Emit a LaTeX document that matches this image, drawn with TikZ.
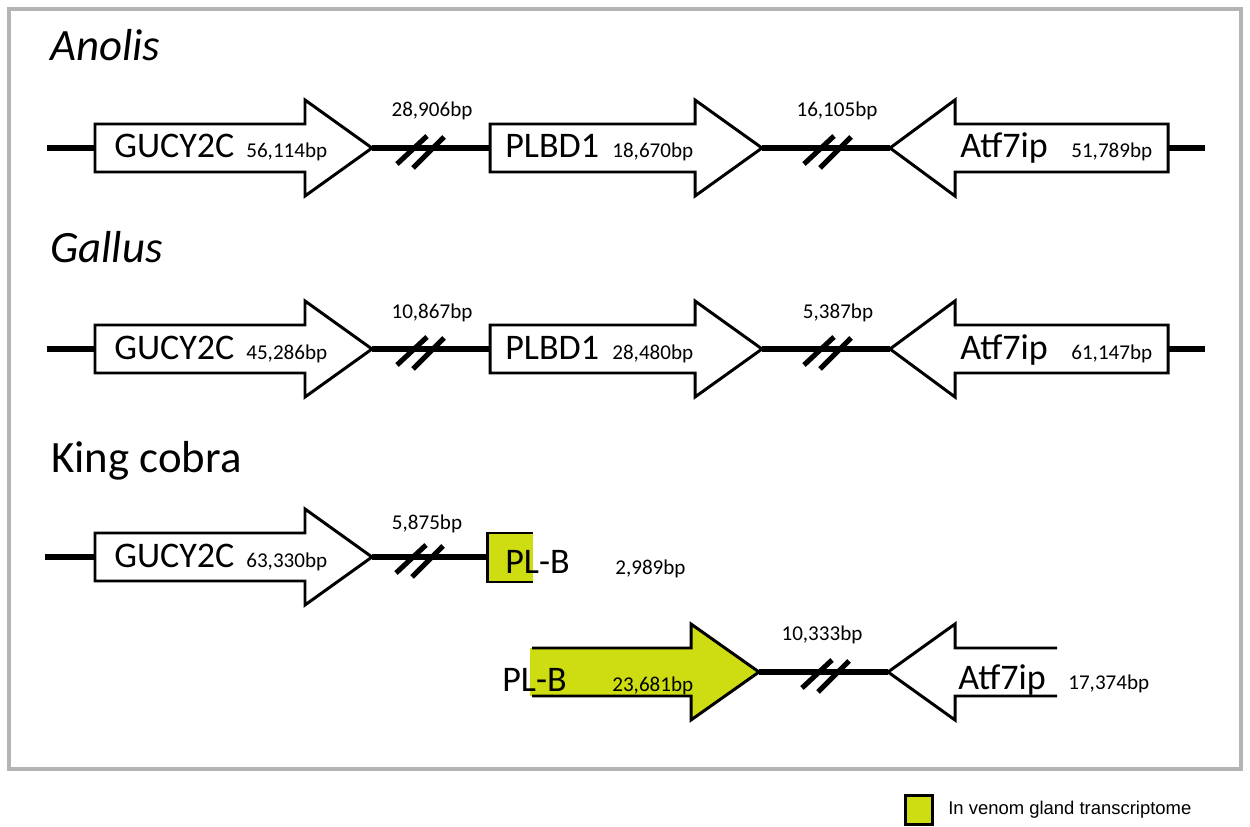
\documentclass[tikz,border=0pt]{standalone}
\usepackage{fontspec}
\setmainfont{Carlito}
\newfontfamily\legendfont{Liberation Sans}
\definecolor{venom}{RGB}{206,221,18}
\definecolor{framegray}{RGB}{180,180,180}
\tikzset{
  chrom/.style={line width=3pt, line cap=butt},
  gene/.style={draw=black, line width=1.7pt, line join=miter},
  brkline/.style={line width=2.9pt, line cap=butt},
  genelbl/.style={anchor=base west, inner sep=0pt, font=\fontsize{20.5}{24}\selectfont},
  bplbl/.style={anchor=base west, inner sep=0pt, font=\fontsize{12}{14}\selectfont},
  gaplbl/.style={anchor=base, inner sep=0pt, font=\fontsize{12}{14}\selectfont},
  species/.style={anchor=base west, inner sep=0pt, font=\fontsize{25.5}{30}\selectfont},
  brk/.pic={
    \draw[brkline] (-24,16) -- (6,-12);
    \draw[brkline] (-8,20) -- (23,-11);
  }
}
% right-pointing gene arrow: name, tail x, tip x, y
\newcommand{\GeneRight}[4]{%
  \draw[gene, fill=white] (#2,#4-24) -- (#3-67,#4-24) -- (#3-67,#4-48) -- (#3,#4)
    -- (#3-67,#4+48) -- (#3-67,#4+24) -- (#2,#4+24) -- cycle;
  \coordinate (#1-tail) at (#2,#4);
  \coordinate (#1-tip) at (#3,#4);
}
% left-pointing gene arrow: name, tip x, tail x, y
\newcommand{\GeneLeft}[4]{%
  \draw[gene, fill=white] (#3,#4-24) -- (#2+65,#4-24) -- (#2+65,#4-48) -- (#2,#4)
    -- (#2+65,#4+48) -- (#2+65,#4+24) -- (#3,#4+24) -- cycle;
  \coordinate (#1-tip) at (#2,#4);
  \coordinate (#1-tail) at (#3,#4);
}
\begin{document}
\begin{tikzpicture}[x=0.02cm, y=-0.02cm]
\useasboundingbox (0,0) rectangle (1250,827);
\fill[white] (0,0) rectangle (1250,827);
\draw[framegray, line width=2.2pt] (9,9) rectangle (1241,769);

% ---------------- Anolis ----------------
\node[species] (sp1) at (50,61) {\itshape Anolis};
\coordinate (r1s) at (47,148);
\coordinate (r1e) at (1205,148);
\GeneRight{a1}{95}{372}{148}
\GeneRight{a2}{490}{762}{148}
\GeneLeft{a3}{890}{1168}{148}
\draw[chrom] (r1s) -- (a1-tail);
\draw[chrom] (a1-tip) -- (a2-tail);
\draw[chrom] (a2-tip) -- (a3-tip);
\draw[chrom] (a3-tail) -- (r1e);
\pic at (421,148) {brk};
\pic at (828,148) {brk};
\node[gaplbl] (g11) at (432,117) {28,906bp};
\node[gaplbl] (g12) at (837,117) {16,105bp};
\node[genelbl] (n11) at (114,158) {GUCY2C};
\node[bplbl] (b11) at (246,158) {56,114bp};
\node[genelbl] (n12) at (505,158) {PLBD1};
\node[bplbl] (b12) at (612,158) {18,670bp};
\node[genelbl] (n13) at (960,158) {Atf7ip};
\node[bplbl] (b13) at (1071,158) {51,789bp};

% ---------------- Gallus ----------------
\node[species] (sp2) at (50,263) {\itshape Gallus};
\coordinate (r2s) at (47,349);
\coordinate (r2e) at (1205,349);
\GeneRight{c1}{95}{372}{349}
\GeneRight{c2}{490}{762}{349}
\GeneLeft{c3}{890}{1168}{349}
\draw[chrom] (r2s) -- (c1-tail);
\draw[chrom] (c1-tip) -- (c2-tail);
\draw[chrom] (c2-tip) -- (c3-tip);
\draw[chrom] (c3-tail) -- (r2e);
\pic at (421,349) {brk};
\pic at (828,349) {brk};
\node[gaplbl] (g21) at (432,318) {10,867bp};
\node[gaplbl] (g22) at (838,318) {5,387bp};
\node[genelbl] (n21) at (114,359) {GUCY2C};
\node[bplbl] (b21) at (246,359) {45,286bp};
\node[genelbl] (n22) at (505,359) {PLBD1};
\node[bplbl] (b22) at (612,359) {28,480bp};
\node[genelbl] (n23) at (960,359) {Atf7ip};
\node[bplbl] (b23) at (1071,359) {61,147bp};

% ---------------- King cobra ----------------
\node[species] (sp3) at (51,472) {King cobra};
\coordinate (r3s) at (45,557);
\GeneRight{k1}{95}{372}{557}
\coordinate (box-l) at (487,557);
\fill[venom] (487,533) rectangle (533,582);
\draw[gene] (533,533) -- (487,533) -- (487,582) -- (533,582);
\draw[chrom] (r3s) -- (k1-tail);
\draw[chrom] (k1-tip) -- (box-l);
\pic at (420,557) {brk};
\node[gaplbl] (g31) at (427,529) {5,875bp};
\node[genelbl] (n31) at (114,567) {GUCY2C};
\node[bplbl] (b31) at (246,567) {63,330bp};
\node[genelbl] (n32) at (505,573) {PL-B};
\node[bplbl] (b32) at (615,574) {2,989bp};

% second King cobra row
\fill[venom] (530,648) -- (691,648) -- (691,624) -- (759,672) -- (691,720) -- (691,696) -- (530,696) -- cycle;
\draw[gene] (532,648) -- (691,648) -- (691,624) -- (759,672) -- (691,720) -- (691,696) -- (532,696);
\coordinate (y2-tip) at (759,672);
\fill[white] (1057,648) -- (955,648) -- (955,624) -- (888,672) -- (955,720) -- (955,696) -- (1057,696) -- cycle;
\draw[gene] (1057,648) -- (955,648) -- (955,624) -- (888,672) -- (955,720) -- (955,696) -- (1057,696);
\coordinate (at2-tip) at (888,672);
\draw[chrom] (y2-tip) -- (at2-tip);
\pic at (826,672) {brk};
\node[gaplbl] (g41) at (822,640) {10,333bp};
\node[genelbl] (n41) at (502,691) {PL-B};
\node[bplbl] (b41) at (612,691) {23,681bp};
\node[genelbl] (n42) at (958,689) {Atf7ip};
\node[bplbl] (b42) at (1068,689) {17,374bp};

% ---------------- Legend ----------------
\node[draw=black, line width=1.7pt, fill=venom, inner sep=0pt,
      minimum width=0.54cm, minimum height=0.58cm] (leg) at (919,810) {};
\node[anchor=west, inner sep=0pt, font=\legendfont\fontsize{10.5}{12}\selectfont] (legt) at (948,810) {In venom gland transcriptome};
\end{tikzpicture}
\end{document}
